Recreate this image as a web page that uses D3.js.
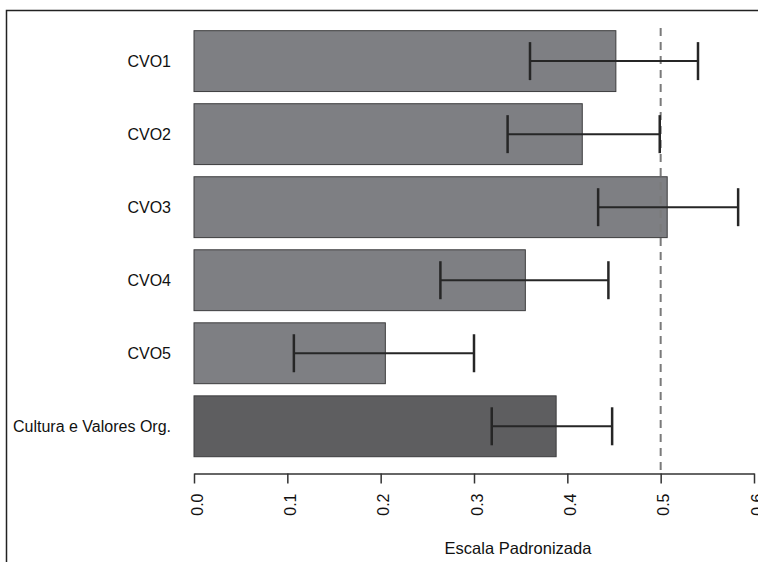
<!DOCTYPE html>
<html>
<head>
<meta charset="utf-8">
<script src="https://cdn.jsdelivr.net/npm/d3@7"></script>
<style>
  body { margin: 0; background: #fff; }
  svg { display: block; font-family: "Liberation Sans", Arial, sans-serif; }
</style>
</head>
<body>
<svg id="chart"></svg>
<script>
const categories = ['CVO1', 'CVO2', 'CVO3', 'CVO4', 'CVO5', 'Cultura e Valores Org.']
const means = [0.452, 0.416, 0.507, 0.355, 0.205, 0.388]
const lower = [0.360, 0.336, 0.433, 0.264, 0.107, 0.319]
const upper = [0.540, 0.499, 0.583, 0.444, 0.300, 0.448]
const tickValues = [0, 0.1, 0.2, 0.3, 0.4, 0.5, 0.6]
const refLine = 0.5
const xTitle = 'Escala Padronizada'

const width = 758, height = 562

const svg = d3.select('#chart')
    .attr('width', width)
    .attr('height', height)

const data = categories.map((c, i) => ({name: c, mean: means[i], lo: lower[i], hi: upper[i], total: i === categories.length - 1}))

const x = d3.scaleLinear()
    .domain([0, 0.6])
    .range([194, 754])

const y = d3.scaleBand()
    .domain(categories)
    .range([24.6, 462.8])
    .paddingInner(1 / 6)
    .paddingOuter(1 / 12)

// frame (top + left, the rest is cropped in the original)
svg.append('path')
    .attr('d', `M6.5,${height} L6.5,10.5 L${width},10.5`)
    .attr('fill', 'none')
    .attr('stroke', '#222')
    .attr('stroke-width', 1.5)

// bars
svg.append('g')
  .selectAll('rect')
  .data(data)
  .join('rect')
    .attr('x', x(0))
    .attr('y', d => y(d.name))
    .attr('width', d => x(d.mean) - x(0))
    .attr('height', y.bandwidth())
    .attr('fill', d => d.total ? '#5e5e60' : '#7e7f83')
    .attr('stroke', '#3c3c3e')
    .attr('stroke-width', 1)

// category labels
svg.append('g')
  .selectAll('text')
  .data(data)
  .join('text')
    .attr('x', 171)
    .attr('y', d => y(d.name) + y.bandwidth() / 2 + 6)
    .attr('text-anchor', 'end')
    .attr('font-size', 16)
    .attr('fill', '#111')
    .text(d => d.name)

// dashed reference line
svg.append('line')
    .attr('x1', x(refLine))
    .attr('x2', x(refLine))
    .attr('y1', 28)
    .attr('y2', 476)
    .attr('stroke', '#7a7a7a')
    .attr('stroke-width', 2)
    .attr('stroke-dasharray', '8,6')

// error bars
const err = svg.append('g')
    .attr('stroke', '#262626')

err.selectAll('line.h')
  .data(data)
  .join('line')
    .attr('class', 'h')
    .attr('x1', d => x(d.lo))
    .attr('x2', d => x(d.hi))
    .attr('y1', d => y(d.name) + y.bandwidth() / 2)
    .attr('y2', d => y(d.name) + y.bandwidth() / 2)
    .attr('stroke-width', 2)

err.selectAll('line.cap')
  .data(data.flatMap(d => [{name: d.name, v: d.lo}, {name: d.name, v: d.hi}]))
  .join('line')
    .attr('class', 'cap')
    .attr('x1', d => x(d.v))
    .attr('x2', d => x(d.v))
    .attr('y1', d => y(d.name) + y.bandwidth() / 2 - 19)
    .attr('y2', d => y(d.name) + y.bandwidth() / 2 + 19)
    .attr('stroke-width', 2.5)

// x axis
const gx = svg.append('g')
    .attr('transform', 'translate(0,473.5)')
    .call(d3.axisBottom(x)
        .tickValues(tickValues)
        .tickFormat(d3.format('.1f'))
        .tickSize(10)
        .tickSizeOuter(0))

gx.select('.domain').attr('stroke', '#333').attr('stroke-width', 1.5)
gx.selectAll('.tick line').attr('stroke', '#333').attr('stroke-width', 1.5)
gx.selectAll('.tick text')
    .attr('font-size', 16)
    .attr('font-family', '"Liberation Sans", Arial, sans-serif')
    .attr('fill', '#111')
    .attr('text-anchor', 'end')
    .attr('transform', 'translate(8,20) rotate(-90)')
    .attr('x', 0)
    .attr('y', 0)
    .attr('dy', 0)

svg.append('text')
    .attr('x', 518)
    .attr('y', 554)
    .attr('text-anchor', 'middle')
    .attr('font-size', 16.5)
    .attr('fill', '#111')
    .text(xTitle)
</script>
</body>
</html>
